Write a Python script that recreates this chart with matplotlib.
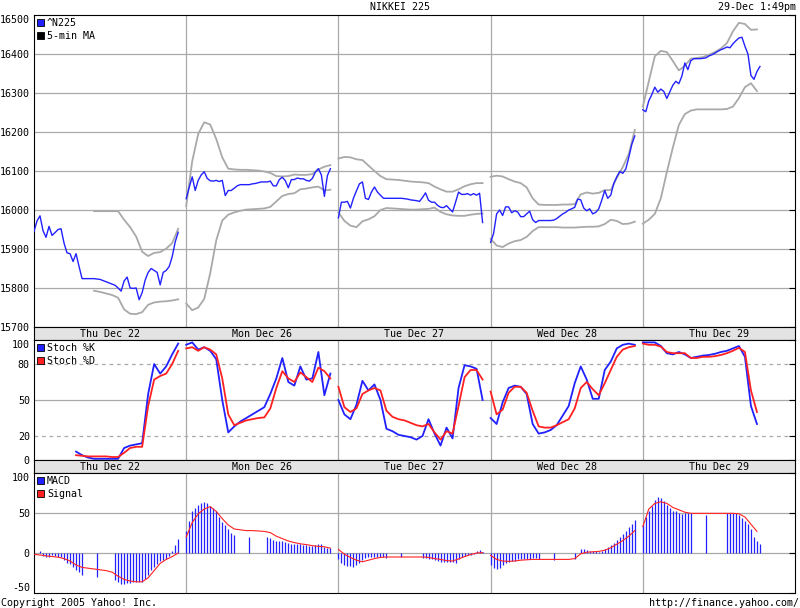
#!/usr/bin/env python3
"""
Nikkei 225 five-day intraday chart with stochastics and MACD panels,
redrawn in the old Yahoo! Finance style.
"""

import numpy as np
import matplotlib
matplotlib.use("Agg")
import matplotlib.pyplot as plt
from matplotlib.patches import Patch

nan = np.nan

# Day slots (each slot covers 9:00 to 15:20, i.e. 380 minutes)
days = ["Thu Dec 22", "Mon Dec 26", "Tue Dec 27", "Wed Dec 28", "Thu Dec 29"]
SESSION = 380
FINE = 7.5     # minutes between price / MACD samples
COARSE = 15.0  # minutes between band / stochastic / signal samples

# ^N225 price, sampled every 7.5 minutes
price = [
    [15945, 15972, 15985, 15947, 15930, 15958, 15935, 15942, 15950, 15952,
     15915, 15890, 15888, 15868, 15888, 15855, 15824, 15824, 15824, 15824,
     15824, 15823, 15822, 15819, 15816, 15813, 15810, 15807, 15800, 15792,
     15818, 15828, 15800, 15799, 15800, 15770, 15788, 15820, 15840, 15850,
     15845, 15840, 15808, 15840, 15845, 15855, 15880, 15918, 15943],
    [16029, 16058, 16085, 16050, 16076, 16090, 16098, 16081, 16075, 16074,
     16076, 16073, 16076, 16037, 16050, 16050, 16056, 16062, 16065, 16065,
     16065, 16065, 16067, 16068, 16070, 16072, 16072, 16072, 16074, 16062,
     16062, 16078, 16084, 16075, 16057, 16078, 16078, 16082, 16080, 16080,
     16076, 16074, 16081, 16097, 16106, 16090, 16035, 16088, 16106],
    [15980, 16020, 16020, 16022, 16005, 16030, 16049, 16067, 16072, 16030,
     16027, 16046, 16059, 16046, 16038, 16030, 16030, 16030, 16030, 16030,
     16030, 16030, 16029, 16028, 16026, 16025, 16024, 16022, 16032, 16044,
     16025, 16020, 16020, 16012, 16007, 16006, 16011, 16003, 15995, 16020,
     16046, 16040, 16040, 16042, 16038, 16042, 16038, 16043, 15968],
    [15917, 15940, 15990, 16000, 15986, 16008, 16008, 15993, 15998, 15995,
     15983, 15983, 15990, 15997, 15975, 15968, 15973, 15973, 15973, 15973,
     15973, 15974, 15978, 15984, 15990, 15994, 16000, 16003, 16007, 16028,
     16026, 16005, 15998, 16003, 15990, 15994, 16003, 16025, 16050, 16030,
     16038, 16068, 16085, 16099, 16094, 16105, 16135, 16168, 16190],
    [16257, 16252, 16280, 16296, 16315, 16302, 16310, 16304, 16286, 16303,
     16320, 16330, 16324, 16343, 16377, 16360, 16383, 16388, 16388, 16388,
     16389, 16390, 16395, 16398, 16402, 16407, 16411, 16414, 16418, 16416,
     16426, 16434, 16441, 16443, 16420, 16400, 16345, 16335, 16355, 16368],
]

# Bands around the moving average, sampled every 15 minutes
band_upper = [
    [nan] * 10 + [15997, 15997, 15997, 15997, 15997, 15975, 15956, 15932,
                  15893, 15882, 15890, 15892, 15901, 15915, 15952],
    [16010, 16125, 16195, 16225, 16219, 16182, 16135, 16106, 16104, 16103,
     16103, 16102, 16101, 16099, 16095, 16087, 16086, 16087, 16091, 16090,
     16090, 16092, 16104, 16111, 16115],
    [16132, 16136, 16135, 16130, 16128, 16114, 16100, 16087, 16079, 16078,
     16077, 16075, 16073, 16072, 16071, 16069, 16060, 16053, 16047, 16047,
     16053, 16061, 16066, 16069, 16069],
    [16085, 16088, 16086, 16079, 16073, 16069, 16058, 16030, 16014, 16013,
     16013, 16013, 16014, 16014, 16015, 16040, 16045, 16042, 16044, 16051,
     16051, 16082, 16110, 16144, 16205],
    [16265, 16330, 16394, 16408, 16405, 16382, 16358, 16370, 16388, 16390,
     16392, 16398, 16405, 16414, 16428, 16458, 16480, 16477, 16462, 16463],
]
band_lower = [
    [nan] * 10 + [15793, 15790, 15786, 15782, 15775, 15745, 15734, 15733,
                  15738, 15757, 15763, 15765, 15766, 15768, 15771],
    [15760, 15743, 15750, 15772, 15838, 15922, 15973, 15988, 15994, 15998,
     16001, 16002, 16003, 16004, 16008, 16022, 16036, 16041, 16043, 16053,
     16055, 16058, 16060, 16050, 16052],
    [15994, 15972, 15960, 15956, 15971, 15976, 15984, 16000, 16005, 16004,
     16003, 16002, 16001, 16001, 16002, 16003, 16006, 15995, 15989, 15986,
     15985, 15985, 15988, 15990, 15991],
    [15926, 15909, 15905, 15914, 15920, 15923, 15931, 15946, 15956, 15956,
     15956, 15956, 15955, 15955, 15955, 15956, 15957, 15957, 15958, 15964,
     15975, 15972, 15964, 15965, 15970],
    [15965, 15975, 15990, 16030, 16097, 16160, 16218, 16246, 16255, 16258,
     16258, 16258, 16258, 16258, 16259, 16265, 16287, 16315, 16325, 16305],
]

# Stochastics %K and %D, sampled every 15 minutes
stoch_k = [
    [nan] * 7 + [7, 4, 2, 1, 1, 1, 1, 1, 10, 12, 13, 14, 55, 80, 72, 78, 88, 97],
    [96, 98, 92, 94, 91, 84, 50, 23, 28, 32, 35, 38, 41, 44, 55, 68, 85, 65,
     62, 78, 67, 68, 90, 54, 72],
    [50, 38, 34, 46, 66, 58, 63, 50, 26, 24, 21, 20, 19, 17, 20, 34, 22, 12,
     27, 18, 60, 79, 78, 76, 50],
    [35, 30, 48, 60, 62, 61, 55, 30, 22, 23, 25, 29, 37, 45, 64, 78, 67, 51,
     51, 75, 82, 93, 96, 97, 96],
    [98, 98, 98, 95, 89, 88, 90, 88, 85, 86, 87, 87.5, 88.5, 90, 91, 93, 95,
     86, 45, 30],
]
stoch_d = [
    [nan] * 7 + [4, 3.5, 3, 3, 3, 3, 2.5, 2.5, 6, 10, 11, 11, 45, 67, 70, 72,
                 80, 91],
    [93, 94, 91, 94, 92, 88, 68, 38, 29, 31, 33, 34, 35, 35.5, 43, 60, 74, 68,
     65, 73, 69, 65, 77, 74, 68],
    [61, 44, 40, 43, 55, 58, 60, 58, 41, 36, 34, 33, 31, 29, 28, 30, 23, 17,
     24, 22, 45, 69, 75, 75, 67],
    [57, 38, 42, 56, 61, 61, 56, 41, 28, 27, 27, 29, 31.5, 34, 43, 60, 65, 59,
     54, 64, 75, 86, 92, 94, 95],
    [97, 96, 96, 94.5, 90, 89, 89, 89, 85, 85, 86, 86, 86.5, 87.5, 89, 91,
     93.5, 90, 58, 40],
]

# MACD bars, sampled every 7.5 minutes (gaps over the lunch break)
macd = [
    [-2, 0, 2, -4, -5, -5, -3, -4, -5, -5, -9, -12, -14, -17, -21, -24, -27,
     nan, nan, nan, nan, -30, nan, nan, nan, nan, nan,
     -34, -36, -39, -39, -38, -37, -36, -36, -36, -36, -33, -28, -21, -17,
     -14, -10, -8.5, -7, -4, 2, 10, 17],
    [28, 40, 52, 56, 60, 62, 64, 62, 59, 56, 52, 45, 39, 35, 30, 25, 22,
     nan, nan, nan, nan, 19.6, nan, nan, nan, nan, nan,
     19.6, 18.5, 16, 15.4, 15.4, 15, 14, 12, 11, 11, 11, 11, 10, 9.5, 9, 9,
     9.5, 11, 11, 8, 6.5, 6],
    [-8, -12, -15, -16, -16.5, -17, -15, -12, -9, -6, -5, -5, -5, -5, -5, -5,
     -6, nan, nan, nan, nan, -5, nan, nan, nan, nan, nan, nan,
     -6, -6, -7, -8, -9, -10, -11, -11, -11, -11, -11, -12, -7, -5, -4, -3,
     -3, -1, 2, 3.5, 1],
    [-15, -19, -20, -19, -15, -12.5, -11, -10, -9.5, -8, -8, -8, -8, -7.5, -6,
     -6, -8, nan, nan, nan, nan, -9, nan, nan, nan, nan, nan, nan,
     -7, 0, 4.5, 5, 4, 3, 2, 2, 1, 3, 5, 7, 9.5, 13, 16.5, 20, 24, 28, 32,
     36, 41],
    [35, 45, 53, 59, 66, 70, 69, 65, 60, 56, 53, 52, 50.5, 49, 49.5, 49.5,
     49.5, nan, nan, nan, nan, 47.5, nan, nan, nan, nan, nan, nan,
     49.6, 49.6, 49.6, 49.6, 48, 44, 40.5, 36, 30, 20, 15, 11],
]
# MACD signal line, sampled every 15 minutes
signal = [
    [-1.7, -2.5, -3.6, -4.4, -5.2, -7, -10, -15, -18, -19, -20, -21, -22, -24,
     -29, -33, -35, -36, -36, -31, -22, -13, -8, -4.5, 0],
    [20, 38, 49, 55, 58, 52, 43, 35, 30, 29, 28, 28, 27.5, 27, 25.5, 21, 18,
     15, 13, 11.5, 10.5, 9.2, 8.3, 7.8, 6],
    [4.5, -1.5, -5.5, -9, -11, -9, -7, -5.5, -5, -5, -5, -5, -5, -5, -5, -5.5,
     -7, -8, -9.5, -10, -7.5, -4.5, -2, 0, 0.5],
    [-3, -8, -10, -10.5, -10, -9, -8.5, -8, -8, -8, -8, -8, -8, -8, -7, -1, 1,
     1.5, 2, 3.5, 6.5, 11, 15.5, 21, 28],
    [33, 55, 62, 64, 62, 57, 54, 51, 49.6, 49.6, 49.6, 49.6, 49.6, 49.6, 49.6,
     49.6, 49, 45, 36, 27],
]

BLUE = '#2121ff'
RED = '#ff2121'
BAND = '#a9a9a9'
GRID = '#a9a9a9'
STRIP = '#e3e3e3'
FS = 7.2

plt.rcParams['font.family'] = ['DejaVu Sans Mono', 'DejaVu Sans']
plt.rcParams['font.size'] = FS

W, H = 800, 608
fig = plt.figure(figsize=(W / 100, H / 100), dpi=100)


def px_axes(top, bottom):
    """Axes spanning the plot columns between two pixel rows"""
    return fig.add_axes([34 / W, 1 - bottom / H, (795 - 34) / W, (bottom - top) / H])


def day_x(d, n, step):
    return d * SESSION + np.arange(n) * step


def style_panel(ax, ymin, ymax, ticks, solid, dashed=(), lift_bottom=False):
    ax.set_xlim(0, len(days) * SESSION)
    ax.set_ylim(ymin, ymax)
    ax.set_xticks([])
    for d in range(1, len(days)):
        ax.axvline(d * SESSION, color=GRID, lw=0.9, zorder=0)
    for v in solid:
        ax.axhline(v, color=GRID, lw=0.9, zorder=0)
    for v in dashed:
        ax.axhline(v, color=GRID, lw=0.9, ls=(0, (3, 3)), zorder=0)
    ax.set_yticks(ticks)
    ax.set_yticklabels([str(t) for t in ticks])
    ax.tick_params(axis='y', left=False, right=True, direction='in', length=4,
                   width=0.8, pad=3, labelsize=FS)
    labels = ax.get_yticklabels()
    labels[-1].set_verticalalignment('top')
    if lift_bottom:
        labels[0].set_verticalalignment('bottom')
    for s in ax.spines.values():
        s.set_linewidth(0.8)


def legend(ax, entries):
    handles = [Patch(facecolor=c, edgecolor='black', lw=0.6, label=l) for l, c in entries]
    ax.legend(handles=handles, loc='upper left', frameon=False, fontsize=FS,
              handlelength=0.7, handleheight=0.7, handletextpad=0.3,
              labelspacing=0.3, borderaxespad=0.15, borderpad=0.15)


def date_strip(ax):
    ax.set_facecolor(STRIP)
    ax.set_xlim(0, len(days) * SESSION)
    ax.set_ylim(0, 1)
    ax.set_xticks([])
    ax.set_yticks([])
    for s in ax.spines.values():
        s.set_linewidth(0.8)
    for d, name in enumerate(days):
        ax.text(d * SESSION + SESSION / 2, 0.45, name, ha='center', va='center',
                fontsize=FS)


# Price panel
ax_price = px_axes(15, 327)
style_panel(ax_price, 15700, 16500, list(range(15700, 16501, 100)),
            solid=range(15800, 16500, 100))
for d in range(len(days)):
    up = band_upper[d]
    lo = band_lower[d]
    ax_price.plot(day_x(d, len(up), COARSE), up, color=BAND, lw=1.3, zorder=2)
    ax_price.plot(day_x(d, len(lo), COARSE), lo, color=BAND, lw=1.3, zorder=2)
    ax_price.plot(day_x(d, len(price[d]), FINE), price[d], color=BLUE, lw=1.0,
                  zorder=3)
legend(ax_price, [('^N225', BLUE), ('5-min MA', 'black')])

date_strip(px_axes(327, 340))

# Stochastics panel
ax_stoch = px_axes(340, 460)
style_panel(ax_stoch, 0, 100, [0, 20, 50, 80, 100], solid=[50], dashed=[20, 80])
for d in range(len(days)):
    ax_stoch.plot(day_x(d, len(stoch_k[d]), COARSE), stoch_k[d], color=BLUE,
                  lw=1.3, zorder=2)
    ax_stoch.plot(day_x(d, len(stoch_d[d]), COARSE), stoch_d[d], color=RED,
                  lw=1.3, zorder=3)
legend(ax_stoch, [('Stoch %K', BLUE), ('Stoch %D', RED)])

date_strip(px_axes(460, 473))

# MACD panel
ax_macd = px_axes(473, 593)
style_panel(ax_macd, -50, 100, [-50, 0, 50, 100], solid=[0, 50], lift_bottom=True)
for d in range(len(days)):
    vals = np.array(macd[d], dtype=float)
    xs = day_x(d, len(vals), FINE)
    ok = np.isfinite(vals)
    ax_macd.vlines(xs[ok], 0, vals[ok], color=BLUE, lw=0.9, zorder=2)
    ax_macd.plot(day_x(d, len(signal[d]), COARSE), signal[d], color=RED,
                 lw=0.8, zorder=3)
legend(ax_macd, [('MACD', BLUE), ('Signal', RED)])

# Header and footer
fig.text(400 / W, 1 - 7 / H, 'NIKKEI 225', ha='center', va='center', fontsize=FS)
fig.text(796 / W, 1 - 7 / H, '29-Dec 1:49pm', ha='right', va='center', fontsize=FS)
fig.text(1 / W, 1 - 603 / H, 'Copyright 2005 Yahoo! Inc.', ha='left', va='center',
         fontsize=FS)
fig.text(799 / W, 1 - 603 / H, 'http://finance.yahoo.com/', ha='right', va='center',
         fontsize=FS)

fig.savefig('out.png', dpi=100)
